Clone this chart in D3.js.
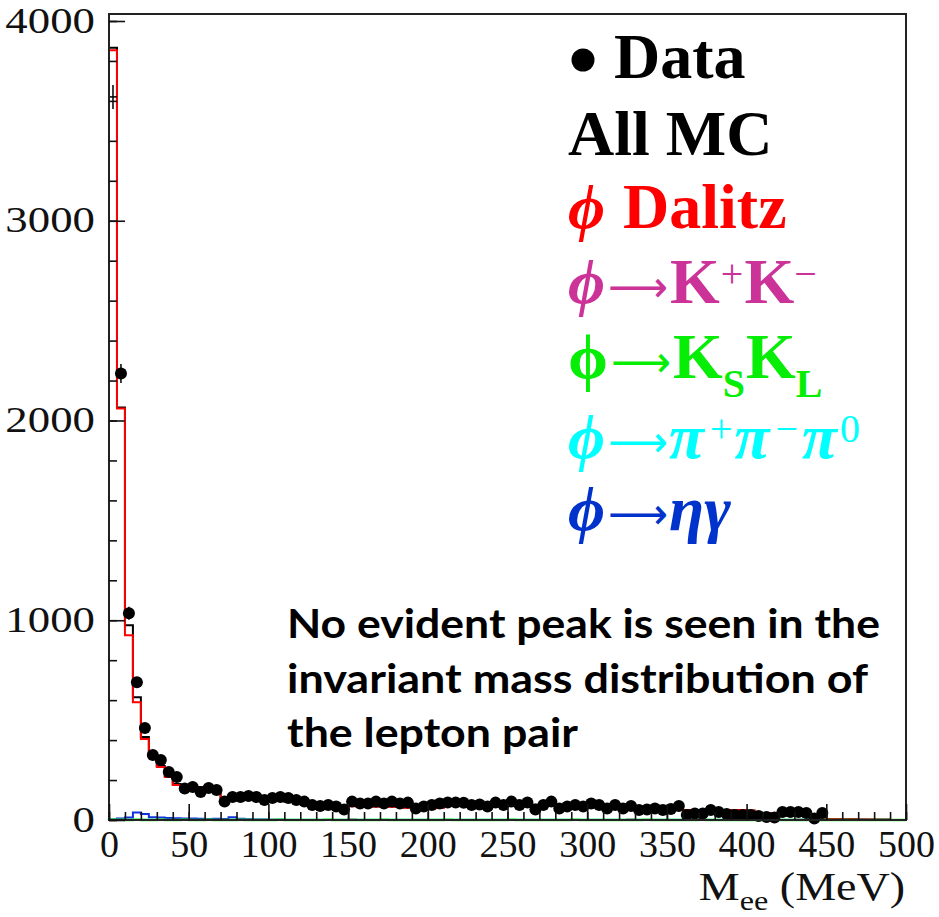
<!DOCTYPE html>
<html>
<head>
<meta charset="utf-8">
<script src="https://cdn.jsdelivr.net/npm/d3@7/dist/d3.min.js"></script>
<style>
  html, body { margin: 0; padding: 0; background: #fff; }
  svg { display: block; }
  .tick-label { font-family: "Liberation Serif", "Times New Roman", serif; }
</style>
</head>
<body>
<svg id="chart" width="939" height="917"></svg>
<script>
// Invariant mass of the e+e- pair, 5 MeV bins from 0 to 500 MeV
const binWidth = 5;
const massRange = [0, 500];

// Observed events per bin
const dataCounts = [
  3620, 2235, 1035, 690, 460, 325, 300, 240, 215, 158,
  165, 140, 160, 150, 92, 115, 115, 120, 115, 100,
  110, 115, 110, 100, 92, 75, 70, 75, 67, 52,
  92, 83, 83, 92, 83, 92, 83, 87, 58, 67,
  75, 83, 88, 87, 86, 75, 78, 67, 87, 75,
  92, 75, 88, 52, 75, 92, 58, 67, 75, 67,
  83, 75, 58, 75, 58, 70, 50, 53, 58, 50,
  55, 70, 25, 33, 33, 50, 40, 30, 25, 25,
  25, 20, 15, 12, 40, 40, 40, 35, 8, 35,
  0, 0, 0, 0, 0, 0, 0, 0, 0, 0
];

// Sum of all simulated channels
const allMC = [
  3866, 2065, 975, 615, 415, 322, 270, 220, 180, 172,
  170, 165, 142, 141, 112, 112, 111, 110, 102, 100,
  100, 96, 93, 92, 85, 84, 83, 82, 72, 71,
  70, 70, 69, 68, 68, 67, 66, 62, 61, 60,
  60, 62, 74, 76, 74, 75, 77, 73, 74, 76,
  75, 73, 72, 76, 74, 73, 75, 74, 72, 74,
  65, 63, 59, 58, 58, 57, 58, 56, 55, 52,
  50, 51, 50, 48, 46, 43, 48, 50, 50, 50,
  47, 36, 35, 34, 26, 25, 25, 24, 15, 14,
  5, 5, 4, 5, 4, 3, 2, 2, 0, 0
];

// phi Dalitz decay phi -> eta e+ e-
const dalitz = [
  3853, 2060, 925, 590, 405, 310, 265, 215, 175, 168,
  166, 163, 140, 140, 110, 110, 110, 109, 101, 100,
  99, 95, 92, 91, 84, 83, 82, 82, 71, 70,
  69, 69, 68, 67, 67, 66, 65, 61, 60, 59,
  59, 61, 73, 75, 73, 74, 76, 72, 73, 75,
  74, 72, 71, 75, 73, 72, 74, 73, 71, 73,
  64, 62, 58, 57, 57, 56, 57, 55, 54, 51,
  49, 50, 49, 47, 45, 42, 47, 49, 49, 49,
  46, 35, 34, 33, 25, 24, 24, 23, 14, 13,
  4, 4, 3, 4, 3, 2, 1, 1, 0, 0
];

// Background channels
const kPlusKMinus = [
  0, 0, 0, 0, 0, 0, 0, 0, 0, 0,
  0, 0, 0, 0, 0, 0, 0, 0, 0, 0,
  0, 0, 0, 0, 0, 0, 0, 0, 0, 0,
  2, 0, 0, 0, 0, 0, 0, 0, 0, 0,
  0, 0, 0, 0, 0, 0, 0, 0, 0, 0,
  0, 0, 0, 0, 0, 0, 0, 0, 0, 0,
  0, 0, 0, 0, 0, 3, 0, 0, 0, 0,
  0, 0, 0, 0, 0, 0, 0, 0, 0, 3,
  0, 0, 0, 0, 0, 0, 2, 0, 0, 0,
  0, 0, 0, 0, 3, 0, 0, 0, 0, 0
];
const kShortKLong = [
  1, 1, 0, 1, 0, 0, 1, 0, 0, 1,
  0, 0, 1, 0, 0, 0, 1, 0, 0, 0,
  0, 1, 0, 0, 0, 0, 0, 1, 0, 0,
  0, 0, 0, 0, 1, 0, 0, 0, 0, 0,
  0, 0, 1, 0, 0, 0, 0, 0, 0, 0,
  1, 0, 0, 0, 0, 0, 0, 0, 1, 0,
  0, 0, 0, 0, 0, 0, 0, 1, 0, 0,
  0, 0, 0, 0, 1, 0, 0, 0, 0, 0,
  0, 0, 0, 1, 0, 0, 0, 0, 0, 0,
  0, 0, 0, 0, 0, 0, 0, 0, 0, 0
];
const threePion = [
  2, 2, 1, 1, 1, 1, 1, 1, 1, 1,
  1, 1, 1, 1, 1, 1, 1, 1, 1, 1,
  1, 1, 1, 1, 1, 1, 1, 1, 1, 1,
  1, 1, 1, 1, 1, 1, 1, 1, 1, 1,
  1, 1, 1, 1, 1, 1, 1, 1, 1, 1,
  1, 1, 1, 1, 1, 1, 1, 1, 1, 1,
  1, 1, 1, 1, 1, 1, 1, 1, 1, 1,
  1, 1, 1, 1, 1, 1, 1, 1, 1, 1,
  1, 1, 1, 1, 1, 1, 1, 1, 1, 1,
  0, 0, 0, 0, 0, 0, 0, 0, 0, 0
];
const etaGamma = [
  3, 8, 12, 38, 30, 14, 12, 10, 9, 8,
  7, 6, 5, 6, 5, 14, 6, 4, 3, 2,
  1, 1, 0, 0, 0, 0, 0, 0, 0, 0,
  0, 0, 0, 0, 0, 0, 0, 0, 0, 0,
  0, 0, 0, 0, 0, 0, 0, 0, 0, 0,
  0, 0, 0, 0, 0, 0, 0, 0, 0, 0,
  0, 0, 0, 0, 0, 0, 0, 0, 0, 0,
  0, 0, 0, 0, 0, 0, 0, 0, 0, 0,
  0, 0, 0, 0, 0, 0, 0, 0, 0, 0,
  0, 0, 0, 0, 0, 0, 0, 0, 0, 0
];

const yMajorTicks = [0, 1000, 2000, 3000, 4000];
const xMajorTicks = [0, 50, 100, 150, 200, 250, 300, 350, 400, 450, 500];

const noteLines = [
  "No evident peak is seen in the",
  "invariant mass distribution of",
  "the lepton pair"
];

// ---- layout ----
const svg = d3.select("#chart");
const plot = { left: 109, right: 906, top: 14, bottom: 820 };

const x = d3.scaleLinear().domain(massRange).range([plot.left, plot.right]);
const y = d3.scaleLinear().domain([0, 4035]).range([plot.bottom, plot.top]);

// step outline of a histogram, ROOT style
function histPath(values) {
  const pts = [[massRange[0], 0]];
  values.forEach((v, i) => pts.push([i * binWidth, v]));
  pts.push([massRange[1], values[values.length - 1]]);
  pts.push([massRange[1], 0]);
  return d3.line().x(d => x(d[0])).y(d => y(d[1])).curve(d3.curveStepAfter)(pts);
}

const hists = [
  { values: allMC, color: "#000000", width: 2 },
  { values: dalitz, color: "#ff0000", width: 2 },
  { values: kPlusKMinus, color: "#cc33aa", width: 2 },
  { values: threePion, color: "#00e8e8", width: 2 },
  { values: etaGamma, color: "#1133dd", width: 2 },
  { values: kShortKLong, color: "#22ee22", width: 2.5 }
];

const histG = svg.append("g");
histG.selectAll("path").data(hists).join("path")
  .attr("d", d => histPath(d.values))
  .attr("fill", "none")
  .attr("stroke", d => d.color)
  .attr("stroke-width", d => d.width);

// data points with statistical errors
const points = dataCounts
  .map((v, i) => ({ m: (i + 0.5) * binWidth, lo: i * binWidth, hi: (i + 1) * binWidth, v }))
  .filter(d => d.v > 0);

const ptG = svg.append("g");
ptG.selectAll("line.ey").data(points).join("line")
  .attr("class", "ey")
  .attr("x1", d => x(d.m)).attr("x2", d => x(d.m))
  .attr("y1", d => y(d.v + Math.sqrt(d.v))).attr("y2", d => y(d.v - Math.sqrt(d.v)))
  .attr("stroke", "#000").attr("stroke-width", 1.5);
ptG.selectAll("line.ex").data(points).join("line")
  .attr("class", "ex")
  .attr("x1", d => x(d.lo)).attr("x2", d => x(d.hi))
  .attr("y1", d => y(d.v)).attr("y2", d => y(d.v))
  .attr("stroke", "#000").attr("stroke-width", 1.5);
// the first bin lies against the axis and is shown by its error cross only
ptG.selectAll("circle").data(points.filter(d => d.lo > massRange[0])).join("circle")
  .attr("cx", d => x(d.m)).attr("cy", d => y(d.v))
  .attr("r", 6).attr("fill", "#000");

// ---- frame and axes ----
svg.append("rect")
  .attr("x", plot.left).attr("y", plot.top)
  .attr("width", plot.right - plot.left).attr("height", plot.bottom - plot.top)
  .attr("fill", "none").attr("stroke", "#222").attr("stroke-width", 2);

const yMinor = d3.range(0, 4001, 200);
const xMinor = d3.range(0, 501, 10);

const yAxisMinor = svg.append("g").attr("transform", `translate(${plot.left},0)`)
  .call(d3.axisLeft(y).tickValues(yMinor).tickSize(-8).tickFormat(""));
const yAxisMajor = svg.append("g").attr("transform", `translate(${plot.left},0)`)
  .call(d3.axisLeft(y).tickValues(yMajorTicks).tickSize(-16).tickPadding(11).tickFormat(d3.format("d")));
const xAxisMinor = svg.append("g").attr("transform", `translate(0,${plot.bottom})`)
  .call(d3.axisBottom(x).tickValues(xMinor).tickSize(-8).tickFormat(""));
const xAxisMajor = svg.append("g").attr("transform", `translate(0,${plot.bottom})`)
  .call(d3.axisBottom(x).tickValues(xMajorTicks).tickSize(-16).tickPadding(10).tickFormat(d3.format("d")));

[yAxisMinor, yAxisMajor, xAxisMinor, xAxisMajor].forEach(g => {
  g.select(".domain").remove();
  g.selectAll(".tick line").attr("stroke", "#111").attr("stroke-width", 1.6);
});
yAxisMajor.selectAll(".tick text")
  .attr("class", "tick-label").attr("font-size", 35).attr("fill", "#111")
  .attr("transform", "scale(1.28,1)");
xAxisMajor.selectAll(".tick text")
  .attr("class", "tick-label").attr("font-size", 38).attr("fill", "#111");

// axis title
const xt = svg.append("text")
  .attr("transform", "translate(905,900) scale(1.15,1)")
  .attr("text-anchor", "end")
  .attr("font-family", "Liberation Serif, serif")
  .attr("font-size", 40).attr("fill", "#111");
xt.append("tspan").text("M");
xt.append("tspan").attr("font-size", 28).attr("dy", 10).text("ee");
xt.append("tspan").attr("dy", -10).text(" (MeV)");

// ---- legend ----
const serif = "Liberation Serif, Times New Roman, serif";
const legend = svg.append("g").attr("font-family", serif);
const lx = 568;

// lays out one legend row piece by piece, measuring each piece
function legendRow(yBase, color, pieces) {
  let cx = lx;
  pieces.forEach(p => {
    const t = legend.append("text")
      .attr("x", cx + (p.gap || 0))
      .attr("y", yBase + (p.dy || 0))
      .attr("fill", color)
      .attr("font-size", p.size || 64)
      .attr("font-weight", p.weight || "bold")
      .attr("font-style", p.italic ? "italic" : "normal")
      .text(p.t);
    if (p.family) t.attr("font-family", p.family);
    if (p.len) t.attr("textLength", p.len).attr("lengthAdjust", "spacingAndGlyphs");
    const w = p.len || t.node().getComputedTextLength();
    cx += (p.gap || 0) + w;
  });
}
const arrow = { t: "⟶", family: "DejaVu Sans, sans-serif", size: 44, weight: "normal", len: 60, gap: 3, dy: -1 };

legend.append("circle").attr("cx", 583).attr("cy", 60).attr("r", 11.5).attr("fill", "#000");
legendRow(78, "#000", [{ t: "Data", gap: 46 }]);
legendRow(155, "#000", [{ t: "All MC" }]);
legendRow(228, "#ff0000", [{ t: "ϕ", italic: true }, { t: "Dalitz", gap: 18 }]);
legendRow(303, "#cc3399", [
  { t: "ϕ", italic: true }, arrow,
  { t: "K", gap: 2 },
  { t: "+", size: 40, weight: "normal", dy: -16, gap: 1 },
  { t: "K", gap: 1 },
  { t: "−", size: 40, weight: "normal", dy: -16, gap: 0 }
]);
legendRow(378, "#06ee06", [
  { t: "ϕ" }, arrow,
  { t: "K", gap: 2 },
  { t: "S", size: 40, dy: 19 },
  { t: "K", gap: 1 },
  { t: "L", size: 40, dy: 19 }
]);
legendRow(458, "#00ffff", [
  { t: "ϕ", italic: true }, arrow,
  { t: "π", italic: true, gap: 1 },
  { t: "+", size: 40, weight: "normal", dy: -16, gap: 6 },
  { t: "π", italic: true, gap: 2 },
  { t: "−", size: 40, weight: "normal", dy: -16, gap: 6 },
  { t: "π", italic: true, gap: 4 },
  { t: "0", size: 40, weight: "normal", dy: -16, gap: 3 }
]);
legendRow(530, "#0033cc", [
  { t: "ϕ", italic: true }, arrow,
  { t: "ηγ", italic: true, gap: 1 }
]);

// ---- note ----
const noteWidths = [593, 581, 291];
const baselines = [638, 693, 747];
svg.append("g").selectAll("text").data(noteLines).join("text")
  .attr("x", 287)
  .attr("y", (d, i) => baselines[i])
  .attr("font-family", "Lato, 'Open Sans', sans-serif")
  .attr("font-weight", "bold")
  .attr("font-size", 40)
  .attr("fill", "#000")
  .attr("textLength", (d, i) => noteWidths[i])
  .attr("lengthAdjust", "spacingAndGlyphs")
  .text(d => d);
</script>
</body>
</html>
